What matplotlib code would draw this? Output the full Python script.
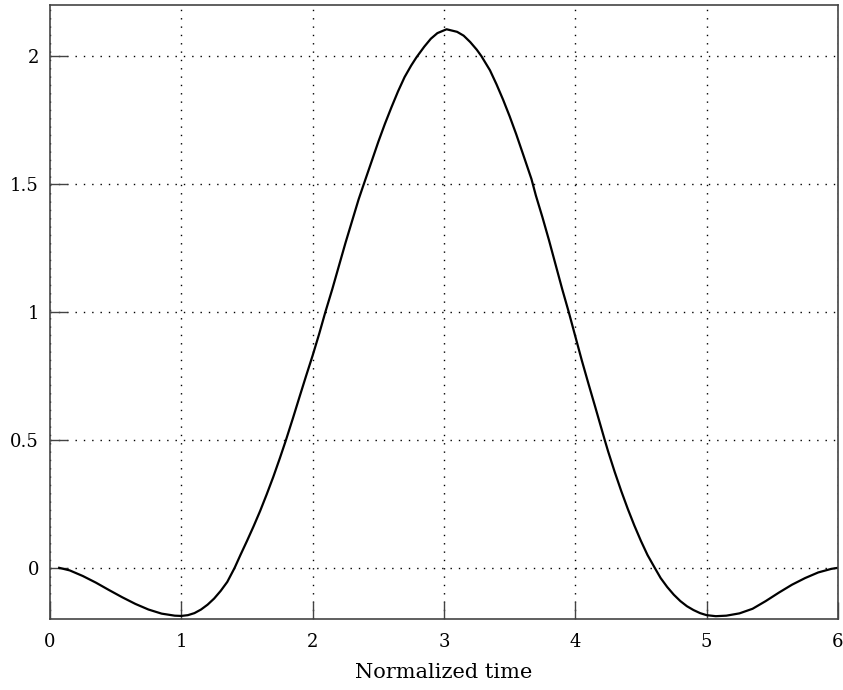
import matplotlib
matplotlib.use("Agg")
import matplotlib.pyplot as plt

# curve
t = [0.07, 0.15, 0.25, 0.35, 0.45, 0.55, 0.65, 0.75, 0.85, 0.95,
     1.00, 1.05, 1.10, 1.15, 1.20, 1.25, 1.30, 1.35, 1.406, 1.45,
     1.50, 1.55, 1.60, 1.65, 1.70, 1.75, 1.794, 1.85, 1.90, 1.95,
     2.00, 2.05, 2.097, 2.15, 2.20, 2.25, 2.30, 2.35, 2.383, 2.45,
     2.50, 2.55, 2.60, 2.65, 2.70, 2.75, 2.79, 2.85, 2.90, 2.95,
     3.02, 3.10, 3.15, 3.20, 3.25, 3.285, 3.35, 3.40, 3.45, 3.50,
     3.55, 3.60, 3.666, 3.70, 3.75, 3.80, 3.85, 3.90, 3.95, 4.00,
     4.05, 4.10, 4.15, 4.224, 4.25, 4.30, 4.35, 4.40, 4.45, 4.50,
     4.55, 4.605, 4.65, 4.70, 4.75, 4.80, 4.85, 4.90, 4.95, 5.00,
     5.07, 5.15, 5.25, 5.35, 5.45, 5.55, 5.65, 5.75, 5.85, 5.95,
     6.00]
amp = [0.0, -0.010, -0.032, -0.058, -0.087, -0.115, -0.141, -0.163, -0.179, -0.187,
       -0.188, -0.185, -0.177, -0.163, -0.144, -0.120, -0.090, -0.055, 0.0, 0.05,
       0.105, 0.162, 0.222, 0.287, 0.355, 0.428, 0.495, 0.585, 0.668, 0.75,
       0.83, 0.915, 1.00, 1.09, 1.18, 1.27, 1.355, 1.44, 1.49, 1.59,
       1.665, 1.735, 1.80, 1.862, 1.918, 1.963, 1.995, 2.037, 2.068, 2.09,
       2.105, 2.095, 2.08, 2.055, 2.025, 2.00, 1.945, 1.89, 1.83, 1.765,
       1.695, 1.62, 1.52, 1.455, 1.37, 1.28, 1.185, 1.09, 1.00, 0.905,
       0.81, 0.72, 0.632, 0.50, 0.455, 0.375, 0.30, 0.23, 0.165, 0.105,
       0.05, 0.0, -0.04, -0.075, -0.105, -0.13, -0.15, -0.165, -0.177, -0.185,
       -0.189, -0.187, -0.178, -0.16, -0.13, -0.097, -0.066, -0.04, -0.018, -0.004,
       0.0]

xticks = [0, 1, 2, 3, 4, 5, 6]
yticks = [0, 0.5, 1, 1.5, 2]
ytick_labels = ["0", "0.5", "1", "1.5", "2"]

plt.rcParams['font.family'] = ['DejaVu Serif']

fig = plt.figure(figsize=(8.43, 6.90), dpi=100)
ax = fig.add_axes([0.0593, 0.1029, 0.9347, 0.8899])

ax.plot(t, amp, color='black', lw=1.6)

ax.set_xlim(0, 6)
ax.set_ylim(-0.2, 2.2)
ax.set_xticks(xticks)
ax.set_xticklabels([str(v) for v in xticks])
ax.set_yticks(yticks)
ax.set_yticklabels(ytick_labels)

ax.grid(True, color='black', lw=1.0, linestyle=(0, (1, 5)))
ax.tick_params(direction='in', length=12, width=1, color='#444444',
               labelsize=13, top=False, right=False)
ax.tick_params(axis='x', pad=10)
ax.tick_params(axis='y', pad=8)
for s in ax.spines.values():
    s.set_color('#444444')
    s.set_linewidth(1.2)

ax.set_xlabel("Normalized time", fontsize=15, labelpad=9)

fig.savefig("out.png", dpi=100)
